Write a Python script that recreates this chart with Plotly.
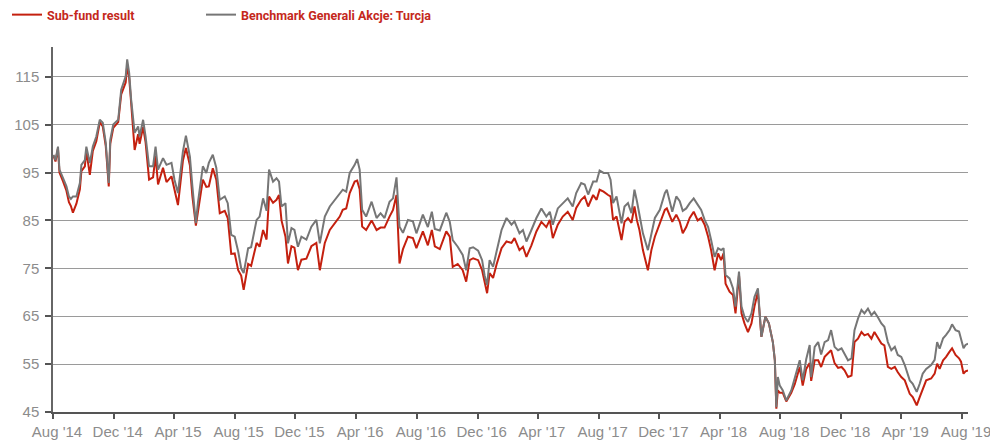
import pandas as pd
import plotly.graph_objects as go

# day offsets from 2014-08-01
days = [1, 5, 10, 13, 20, 27, 32, 36, 40, 47, 54, 57, 64, 67, 74, 80, 87, 94, 100, 106,
        112, 115, 121, 131, 137, 142, 146, 149, 153, 157, 164, 171, 174, 181, 186, 193, 201, 206, 211, 221,
        228, 238, 244, 251, 261, 267, 275, 280, 287, 291, 301, 308, 313, 321, 328, 335, 345, 351, 358, 365,
        372, 378, 383, 392, 398, 409, 415, 422, 429, 434, 442, 449, 454, 459, 467, 472, 479, 485, 492, 499,
        509, 519, 529, 536, 546, 556, 566, 576, 582, 589, 596, 606, 611, 616, 621, 629, 640, 650, 658, 666,
        676, 683, 690, 696, 703, 713, 723, 730, 743, 753, 761, 767, 777, 790, 797, 803, 813, 823, 830, 837,
        844, 854, 862, 867, 872, 877, 884, 891, 901, 911, 921, 927, 937, 944, 951, 961, 971, 981, 991, 998,
        1004, 1014, 1024, 1034, 1044, 1051, 1061, 1068, 1075, 1085, 1092, 1098, 1106, 1115, 1120, 1125, 1132, 1142, 1148, 1155,
        1162, 1168, 1173, 1178, 1185, 1195, 1202, 1209, 1219, 1229, 1233, 1239, 1244, 1252, 1259, 1265, 1272, 1279, 1287, 1295,
        1302, 1309, 1316, 1322, 1329, 1336, 1342, 1347, 1351, 1359, 1366, 1371, 1378, 1383, 1389, 1396, 1403, 1409, 1416, 1423,
        1431, 1438, 1446, 1450, 1453, 1456, 1460, 1466, 1473, 1483, 1490, 1500, 1506, 1513, 1520, 1523, 1530, 1537, 1543, 1550,
        1557, 1563, 1570, 1577, 1584, 1590, 1597, 1604, 1610, 1617, 1624, 1630, 1637, 1644, 1650, 1657, 1664, 1670, 1677, 1684,
        1691, 1697, 1704, 1711, 1721, 1727, 1735, 1741, 1747, 1754, 1764, 1771, 1776, 1781, 1788, 1794, 1801, 1806, 1813, 1820,
        1824, 1829, 1833, 1838]

benchmark = [98.7, 97.6, 100.4, 95.6, 93.9, 92.1, 90.0, 89.5, 90.0, 90.0, 92.8, 96.6, 97.6, 100.4, 97.0, 100.4, 102.5, 106.0, 105.4, 101.2,
             92.8, 101.8, 105.0, 106.0, 112.3, 114.0, 115.1, 118.6, 115.8, 110.2, 103.3, 104.6, 102.5, 106.0, 102.5, 96.3, 96.3, 100.4, 95.6, 98.0,
             96.6, 97.0, 93.5, 90.7, 99.4, 102.7, 98.3, 92.1, 84.4, 88.6, 96.3, 94.9, 97.0, 98.7, 96.0, 89.3, 90.0, 88.6, 82.0, 81.6,
             78.5, 75.0, 74.0, 79.2, 79.4, 85.1, 85.8, 89.6, 87.0, 95.6, 93.1, 93.8, 93.1, 87.9, 88.6, 80.2, 83.4, 83.0, 79.5, 81.6,
             81.0, 83.7, 85.1, 80.2, 85.8, 87.9, 89.3, 90.7, 91.4, 91.0, 94.9, 96.6, 97.8, 95.6, 87.2, 85.8, 88.9, 85.5, 86.5, 85.5,
             88.9, 89.6, 94.0, 83.7, 82.4, 85.1, 84.8, 82.3, 86.2, 83.6, 86.8, 83.2, 82.9, 86.6, 84.7, 80.9, 79.5, 77.8, 74.6, 79.2,
             79.4, 78.7, 76.7, 73.5, 71.5, 76.7, 75.3, 78.5, 83.0, 85.5, 84.1, 84.8, 82.3, 83.0, 80.6, 83.0, 85.5, 87.5, 85.8, 86.8,
             84.1, 87.5, 88.6, 89.6, 87.9, 90.7, 92.8, 92.5, 90.4, 93.1, 93.1, 95.4, 94.9, 94.9, 93.5, 88.6, 90.0, 84.4, 87.9, 88.6,
             86.5, 91.4, 89.0, 85.8, 82.3, 78.8, 82.0, 85.5, 87.2, 90.7, 91.4, 88.6, 86.8, 90.0, 89.0, 87.0, 87.5, 88.6, 89.6, 88.3,
             87.2, 85.1, 83.6, 80.9, 77.4, 79.2, 78.8, 79.2, 73.6, 72.9, 70.8, 67.0, 74.3, 67.0, 64.9, 63.8, 65.6, 69.0, 70.8, 60.7,
             64.9, 63.5, 59.6, 55.8, 46.0, 52.3, 50.5, 49.5, 47.4, 49.5, 52.0, 55.8, 51.6, 56.0, 59.0, 52.3, 58.6, 59.6, 57.0, 59.6,
             60.0, 62.1, 58.6, 57.9, 58.3, 57.2, 55.8, 56.2, 62.1, 64.5, 66.3, 65.6, 66.6, 65.2, 65.9, 64.8, 63.5, 62.8, 59.6, 57.9,
             58.6, 56.9, 56.5, 54.8, 51.6, 50.9, 49.2, 50.9, 53.0, 54.0, 54.8, 55.9, 59.6, 58.2, 60.4, 61.1, 62.1, 63.3, 62.1, 61.8,
             60.0, 58.3, 59.0, 59.3]

fund = [98.5, 97.3, 100.0, 95.0, 93.2, 91.2, 88.8, 88.0, 86.6, 88.5, 91.5, 95.3, 96.3, 99.5, 94.5, 99.5, 101.5, 105.5, 104.6, 100.5,
        92.1, 101.0, 104.3, 105.5, 111.3, 112.8, 113.8, 117.3, 114.8, 109.5, 99.7, 103.0, 101.0, 104.5, 101.3, 93.5, 94.0, 98.5, 92.5, 96.0,
        93.0, 94.2, 91.5, 88.2, 97.5, 100.1, 96.5, 90.0, 83.9, 86.5, 93.5, 92.0, 92.1, 95.9, 93.5, 86.5, 87.0, 85.5, 78.0, 78.1,
        74.6, 73.5, 70.5, 75.9, 75.5, 80.3, 79.5, 83.0, 81.0, 90.0, 88.7, 89.3, 90.3, 85.0, 81.6, 76.0, 79.6, 79.3, 74.6, 76.8,
        77.0, 79.6, 80.3, 74.6, 80.3, 83.0, 84.4, 85.8, 87.2, 87.5, 90.7, 93.1, 93.3, 91.5, 83.7, 83.0, 85.0, 83.0, 83.5, 83.5,
        85.8, 87.2, 90.3, 76.0, 79.0, 81.6, 81.3, 79.2, 82.7, 79.8, 83.0, 79.6, 79.0, 82.7, 81.6, 75.3, 75.9, 74.6, 72.2, 76.7,
        77.1, 76.7, 74.6, 71.9, 69.8, 74.0, 73.0, 75.8, 79.2, 80.6, 80.3, 81.3, 78.8, 79.5, 77.4, 79.8, 82.7, 84.7, 83.6, 85.1,
        81.3, 84.1, 85.8, 86.8, 85.1, 87.6, 89.3, 90.0, 87.9, 90.3, 89.3, 91.4, 91.0, 90.3, 90.0, 85.1, 85.8, 80.9, 84.7, 85.5,
        84.5, 87.9, 85.0, 83.0, 78.8, 74.6, 78.8, 81.6, 84.4, 87.2, 87.5, 85.8, 84.7, 86.2, 84.7, 82.3, 83.6, 85.5, 86.8, 85.0,
        85.5, 84.1, 81.6, 78.8, 74.6, 78.1, 76.7, 78.1, 71.8, 70.1, 69.4, 65.6, 73.6, 65.6, 63.5, 61.7, 63.5, 67.0, 70.1, 60.7,
        64.9, 63.5, 59.6, 55.8, 45.7, 49.5, 49.0, 49.0, 47.2, 49.0, 50.8, 54.4, 50.5, 54.0, 55.2, 51.5, 55.8, 55.8, 54.4, 56.5,
        57.2, 57.9, 55.2, 54.2, 54.4, 53.7, 52.3, 52.6, 59.6, 60.3, 61.7, 61.0, 61.3, 60.3, 61.7, 60.6, 59.3, 58.9, 54.4, 54.0,
        54.4, 53.3, 52.3, 51.6, 48.8, 48.1, 46.4, 48.1, 49.9, 51.6, 52.0, 53.0, 55.1, 54.0, 55.8, 56.5, 57.6, 58.3, 56.9, 56.2,
        55.5, 53.0, 53.5, 53.7]

y_ticks = [45, 55, 65, 75, 85, 95, 105, 115]

dates = pd.Timestamp("2014-08-01") + pd.to_timedelta(days, unit="D")

RED = "#c4200f"
GREY = "#767676"
TICK_FONT = dict(family="Liberation Sans, Arial, sans-serif", size=15, color="#8c8c8c")
LEG_FONT = dict(family="Roboto, Liberation Sans, sans-serif", size=12.5, color="#c4281c", weight="bold")

fig = go.Figure()
fig.add_trace(go.Scatter(x=dates, y=fund, mode="lines", name="Sub-fund result",
                         line=dict(color=RED, width=2), legend="legend"))
fig.add_trace(go.Scatter(x=dates, y=benchmark, mode="lines", name="Benchmark Generali Akcje: Turcja",
                         line=dict(color=GREY, width=2), legend="legend2"))

leg_common = dict(orientation="h", xref="container", yref="container",
                  y=1 - 15 / 441, xanchor="left", yanchor="middle",
                  font=LEG_FONT, bgcolor="rgba(0,0,0,0)")

fig.update_layout(
    width=990, height=441,
    margin=dict(l=53, r=22, t=47, b=29, autoexpand=False),
    paper_bgcolor="white", plot_bgcolor="white",
    showlegend=True,
    legend=dict(x=7 / 990, **leg_common),
    legend2=dict(x=201 / 990, **leg_common),
    xaxis=dict(type="date", range=["2014-08-01", "2019-08-13"],
               tickmode="linear", tick0="2014-08-01", dtick="M4", tickformat="%b '%y",
               ticks="outside", ticklen=5, tickwidth=1.5, tickcolor="#555555",
               showline=True, linecolor="#555555", linewidth=1.5, automargin=False,
               showgrid=False, zeroline=False, tickfont=TICK_FONT, ticklabelshift=4,
               ticklabeloverflow="allow"),
    yaxis=dict(range=[45, 121.2], tickmode="array", tickvals=y_ticks,
               ticks="outside", ticklen=6, tickwidth=1.5, tickcolor="#555555",
               showline=True, linecolor="#666666", linewidth=1.5, automargin=False,
               showgrid=True, gridcolor="#9a9a9a", gridwidth=1.2, zeroline=False,
               tickfont=TICK_FONT, ticklabelstandoff=3),
)

fig.write_html("out.html", config={"displayModeBar": False},
               post_script="document.body.style.margin='0';document.body.style.overflow='hidden';")
